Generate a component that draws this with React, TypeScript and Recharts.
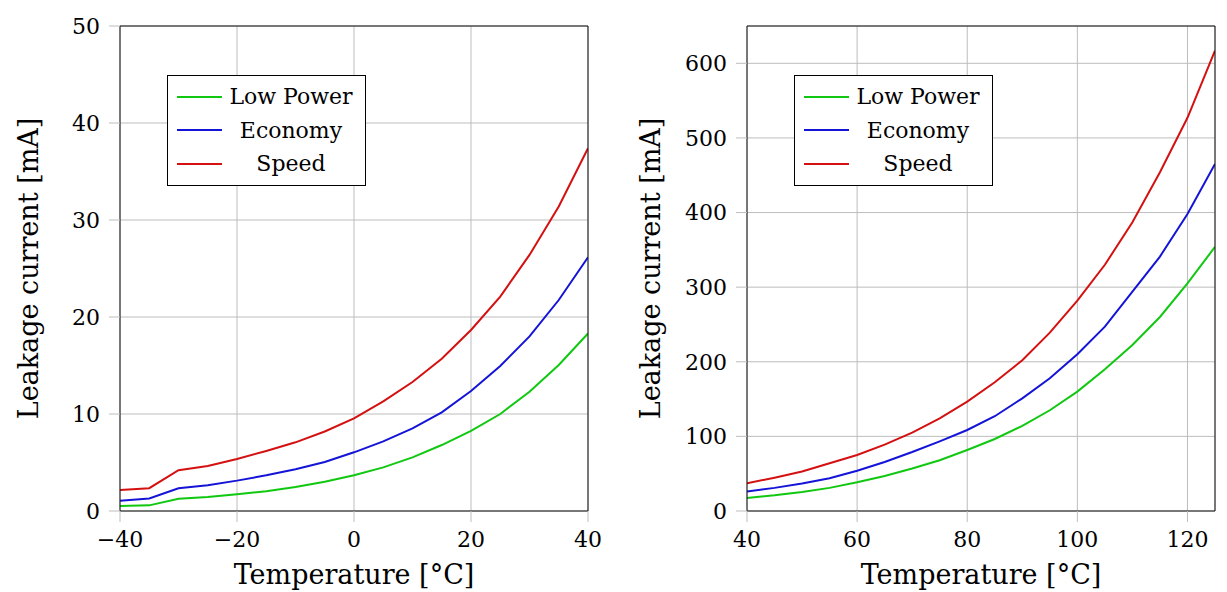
import React from 'react';
import { LineChart, Line, XAxis, YAxis, CartesianGrid, Legend } from 'recharts';

// left panel: -40 .. 40 °C
const tempLow = [-40, -35, -30, -25, -20, -15, -10, -5, 0, 5, 10, 15, 20, 25, 30, 35, 40];
const lowPowerLow = [0.52, 0.58, 1.27, 1.44, 1.72, 2.03, 2.47, 3.02, 3.68, 4.5, 5.53, 6.8, 8.25, 10.0, 12.3, 15.05, 18.3];
const economyLow = [1.06, 1.3, 2.34, 2.65, 3.13, 3.68, 4.3, 5.05, 6.05, 7.18, 8.52, 10.17, 12.37, 14.95, 18.0, 21.75, 26.15];
const speedLow = [2.16, 2.35, 4.2, 4.64, 5.36, 6.19, 7.08, 8.2, 9.55, 11.3, 13.3, 15.7, 18.66, 22.1, 26.4, 31.4, 37.4];

// right panel: 40 .. 125 °C
const tempHigh = [40, 45, 50, 55, 60, 65, 70, 75, 80, 85, 90, 95, 100, 105, 110, 115, 120, 125];
const lowPowerHigh = [17.4, 21, 25.5, 31, 38.4, 47, 57, 68, 81.8, 96.5, 114, 135, 160, 190, 222.5, 260, 305, 354];
const economyHigh = [26, 31, 37, 44, 54, 65.7, 79, 93.4, 108.6, 127, 151, 178, 210, 247, 294, 341, 398, 465];
const speedHigh = [37, 44.7, 53, 64, 75, 89, 105, 124, 146.5, 172.5, 202, 239, 282, 330, 387, 454, 527, 617];

const xTicksLow = [-40, -20, 0, 20, 40];
const yTicksLow = [0, 10, 20, 30, 40, 50];
const xTicksHigh = [40, 60, 80, 100, 120];
const yTicksHigh = [0, 100, 200, 300, 400, 500, 600];

const seriesNames = ['Low Power', 'Economy', 'Speed'];
const seriesKeys = ['low', 'eco', 'speed'];
const colors = ['#10c810', '#1414d8', '#d41010'];

const FONT = '"DejaVu Serif", serif';
const GRID = '#bdbdbd';
const AXIS = '#111';

const buildRows = (t: number[], a: number[], b: number[], c: number[]) =>
  t.map((x, i) => ({ t: x, low: a[i], eco: b[i], speed: c[i] }));

const rowsLow = buildRows(tempLow, lowPowerLow, economyLow, speedLow);
const rowsHigh = buildRows(tempHigh, lowPowerHigh, economyHigh, speedHigh);

const fmt = (v: number) => String(v).replace('-', '\u2212');

const LegendBox = () => (
  <div
    style={{
      width: 197,
      height: 109,
      border: '1px solid #000',
      background: '#fff',
      fontFamily: FONT,
      fontSize: 22,
      position: 'relative',
    }}
  >
    {seriesNames.map((name, i) => (
      <div
        key={name}
        style={{ position: 'absolute', left: 0, top: 4 + i * 33.5, height: 33, width: 197, display: 'flex', alignItems: 'center' }}
      >
        <div style={{ width: 45, height: 2, background: colors[i], marginLeft: 9 }} />
        <div style={{ width: 130, textAlign: 'center', marginLeft: 4, color: '#000' }}>{name}</div>
      </div>
    ))}
  </div>
);

const YTitle = ({ viewBox, dx }: any) => {
  const cx = viewBox.x + dx;
  const cy = viewBox.y + viewBox.height / 2;
  return (
    <text x={cx} y={cy} transform={`rotate(-90 ${cx} ${cy})`} textAnchor="middle" dominantBaseline="central" fontFamily={FONT} fontSize={27} fill="#000">
      Leakage current [mA]
    </text>
  );
};

const XTitle = ({ viewBox }: any) => (
  <text x={viewBox.x + viewBox.width / 2} y={viewBox.y + 73} textAnchor="middle" fontFamily={FONT} fontSize={27} fill="#000">
    Temperature [°C]
  </text>
);

interface PanelProps {
  rows: any[];
  width: number;
  xDomain: [number, number];
  yDomain: [number, number];
  xTicks: number[];
  yTicks: number[];
  yAxisWidth: number;
  titleDx: number;
  legendLeft: number;
  marginRight: number;
}

const Panel = ({ rows, width, xDomain, yDomain, xTicks, yTicks, yAxisWidth, titleDx, legendLeft, marginRight }: PanelProps) => {
  const tickStyle = { fontFamily: FONT, fontSize: 22, fill: '#000' };
  return (
    <LineChart width={width} height={592} data={rows} margin={{ top: 15, right: marginRight, bottom: 0, left: 0 }}>
      <CartesianGrid stroke={GRID} strokeWidth={1} />
      <XAxis
        dataKey="t"
        type="number"
        domain={xDomain}
        ticks={xTicks}
        allowDataOverflow
        height={81}
        tickSize={11}
        tickMargin={9}
        tickLine={{ stroke: GRID }}
        axisLine={{ stroke: AXIS }}
        tick={tickStyle}
        tickFormatter={fmt}
        label={<XTitle />}
      />
      <XAxis
        xAxisId="top"
        orientation="top"
        dataKey="t"
        type="number"
        domain={xDomain}
        ticks={xTicks}
        allowDataOverflow
        height={11}
        tickSize={11}
        tickLine={{ stroke: GRID }}
        axisLine={{ stroke: AXIS }}
        tick={false}
      />
      <YAxis
        type="number"
        domain={yDomain}
        ticks={yTicks}
        allowDataOverflow
        width={yAxisWidth}
        tickSize={11}
        tickMargin={9}
        tickLine={{ stroke: GRID }}
        axisLine={{ stroke: AXIS }}
        tick={tickStyle}
        label={<YTitle dx={titleDx} />}
      />
      <YAxis
        yAxisId="right"
        orientation="right"
        type="number"
        domain={yDomain}
        ticks={yTicks}
        allowDataOverflow
        width={12}
        tickSize={11}
        tickLine={{ stroke: GRID }}
        axisLine={{ stroke: AXIS }}
        tick={false}
      />
      {seriesKeys.map((k, i) => (
        <Line key={k} dataKey={k} stroke={colors[i]} strokeWidth={2} dot={false} isAnimationActive={false} />
      ))}
      <Legend
        layout="vertical"
        align="center"
        verticalAlign="middle"
        content={() => <LegendBox />}
        wrapperStyle={{ left: legendLeft, top: 75, width: 'auto' }}
      />
    </LineChart>
  );
};

export default function App() {
  return (
    <div style={{ position: 'absolute', left: 0, top: 0, width: 1227, height: 592, background: '#fff', display: 'flex' }}>
      <Panel
        rows={rowsLow}
        width={613}
        xDomain={[-40, 40]}
        yDomain={[0, 50]}
        xTicks={xTicksLow}
        yTicks={yTicksLow}
        yAxisWidth={120}
        titleDx={28}
        legendLeft={167}
        marginRight={13}
      />
      <Panel
        rows={rowsHigh}
        width={614}
        xDomain={[40, 125]}
        yDomain={[0, 650]}
        xTicks={xTicksHigh}
        yTicks={yTicksHigh}
        yAxisWidth={134}
        titleDx={37}
        legendLeft={181}
        marginRight={0}
      />
    </div>
  );
}
